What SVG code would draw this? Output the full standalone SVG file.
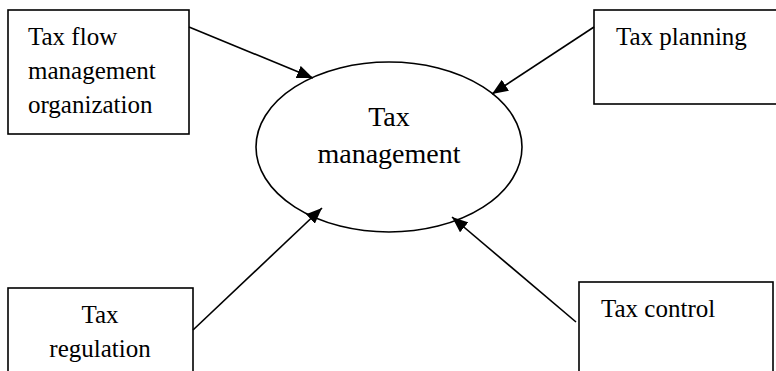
<svg xmlns="http://www.w3.org/2000/svg" width="776" height="371" viewBox="0 0 776 371">
<style>
.box{fill:#fff;stroke:#000;stroke-width:1.6}
.t{font-family:"Liberation Serif","DejaVu Serif",serif;font-size:25px;fill:#000}
.big{font-size:28px}
.c{text-anchor:middle}
.edge{stroke:#000;stroke-width:1.6;fill:none;marker-end:url(#ah)}
</style>
<defs>
<marker id="ah" markerUnits="userSpaceOnUse" markerWidth="17" markerHeight="13" refX="16" refY="6.5" orient="auto">
<path d="M0,0 L16,6.5 L0,13 Z" fill="#000"/>
</marker>
</defs>
<rect width="776" height="371" fill="#fff"/>
<g id="n-flow">
<rect class="box" x="8" y="10" width="181" height="124"/>
<text class="t" x="28" y="45">Tax flow</text>
<text class="t" x="28" y="79">management</text>
<text class="t" x="28" y="113">organization</text>
</g>
<g id="n-planning">
<rect class="box" x="594" y="10" width="190" height="94"/>
<text class="t" x="616" y="45">Tax planning</text>
</g>
<g id="n-regulation">
<rect class="box" x="8" y="288" width="185" height="100"/>
<text class="t c" x="100" y="323">Tax</text>
<text class="t c" x="100" y="357">regulation</text>
</g>
<g id="n-control">
<rect class="box" x="579" y="282" width="194" height="100"/>
<text class="t" x="601" y="317">Tax control</text>
</g>
<g id="n-management">
<ellipse class="box" cx="389" cy="147" rx="133" ry="85"/>
<text class="t big c" x="389" y="126">Tax</text>
<text class="t big c" x="389" y="163">management</text>
</g>
<g id="connectors">
<line class="edge" x1="189" y1="27" x2="313" y2="78"/>
<line class="edge" x1="594" y1="27" x2="492" y2="94"/>
<line class="edge" x1="193" y1="330" x2="322" y2="208"/>
<line class="edge" x1="576" y1="322" x2="452" y2="217"/>
</g>
</svg>
